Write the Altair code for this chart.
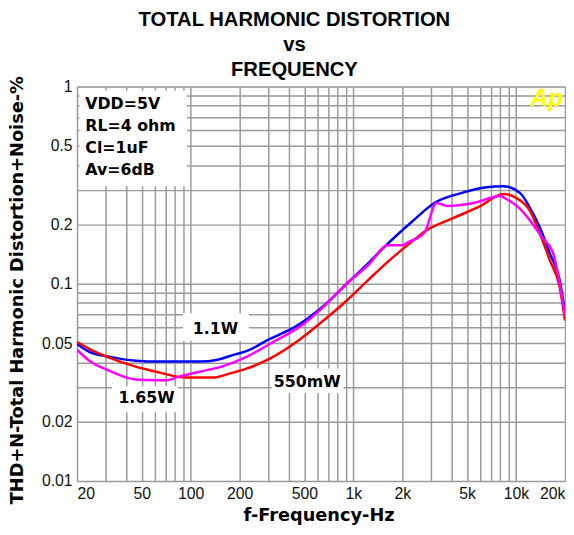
import altair as alt
import pandas as pd

# ---- data ----
f_11w = [20, 23.8, 31.5, 45.9, 63.2, 115, 146, 185, 222, 306, 446, 650, 897, 1236, 1634, 2300,
         3148, 4589, 6596, 8362, 10598, 12186, 14012, 16112, 18524, 20000]
t_11w = [0.0495, 0.0452, 0.0427, 0.0407, 0.0403, 0.0403, 0.0412, 0.0437, 0.0457, 0.0525, 0.0610,
         0.0767, 0.0989, 0.1274, 0.1603, 0.207, 0.257, 0.2884, 0.309, 0.3126, 0.2884, 0.2427,
         0.1928, 0.1429, 0.1047, 0.072]

f_550 = [20, 23.8, 31.5, 45.9, 60.6, 75.8, 92.2, 140, 175, 222, 306, 446, 615, 897, 1236, 1727,
         2382, 2738, 4162, 6066, 8362, 10020, 12186, 14012, 16112, 18524, 20000]
t_550 = [0.0507, 0.0468, 0.0422, 0.0380, 0.0359, 0.0343, 0.0335, 0.0335, 0.0351, 0.0372, 0.0417,
         0.0507, 0.0624, 0.0813, 0.1047, 0.1349, 0.168, 0.184, 0.2163, 0.2483, 0.2851, 0.2723,
         0.2344, 0.1799, 0.1318, 0.0966, 0.065]

f_165 = [20, 23.8, 31.5, 45.9, 60.6, 70, 86, 115, 155, 222, 306, 492, 650, 897, 1236, 1634, 1986,
         2160, 2738, 3238, 3774, 5500, 8018, 8720, 10598, 14608, 16800, 20000]
t_165 = [0.0463, 0.0407, 0.0363, 0.0327, 0.0324, 0.0324, 0.0339, 0.0359, 0.0380, 0.0427, 0.0495,
         0.0624, 0.0759, 0.0989, 0.1245, 0.1567, 0.1567, 0.1622, 0.1820, 0.2570, 0.2483, 0.2570,
         0.2786, 0.2692, 0.2400, 0.170, 0.145, 0.069]

series_names = ["1.1W", "550mW", "1.65W"]
series_colors = ["#0000FF", "#FF0000", "#FF00FF"]

x_grid = [20, 30, 40, 50, 60, 70, 80, 90, 100, 200, 300, 400, 500, 600, 700, 800, 900,
          1000, 2000, 3000, 4000, 5000, 6000, 7000, 8000, 9000, 10000, 20000]
x_labels = [20, 50, 100, 200, 500, 1000, 2000, 5000, 10000, 20000]
y_grid = [0.01, 0.02, 0.03, 0.04, 0.05, 0.06, 0.07, 0.08, 0.09,
          0.1, 0.2, 0.3, 0.4, 0.5, 0.6, 0.7, 0.8, 0.9, 1]
y_labels = [0.01, 0.02, 0.05, 0.1, 0.2, 0.5, 1]

cond_lines = ["VDD=5V", "RL=4 ohm", "Cl=1uF", "Av=6dB"]
cond_f = [22.5, 22.5, 22.5, 22.5]
cond_t = [0.818, 0.634, 0.487, 0.378]

# annotation boxes (data space)
box_f1 = [20.7, 89.7, 315, 32.8]
box_f2 = [94.8, 228, 871, 83.5]
box_t1 = [0.955, 0.0708, 0.0372, 0.0302]
box_t2 = [0.3126, 0.0513, 0.0279, 0.0223]

lab_text = ["1.1W", "550mW", "1.65W"]
lab_f = [142, 520, 53.5]
lab_t = [0.0589, 0.0318, 0.0263]

# ---- frames ----
rows = []
for name, fs, ts in zip(series_names, [f_11w, f_550, f_165], [t_11w, t_550, t_165]):
    for i, (f, t) in enumerate(zip(fs, ts)):
        rows.append({"s": name, "f": f, "t": t, "i": i})
lines_df = pd.DataFrame(rows)
boxes_df = pd.DataFrame({"f": box_f1, "f2": box_f2, "t": box_t1, "t2": box_t2})
cond_df = pd.DataFrame({"f": cond_f, "t": cond_t, "txt": cond_lines})
lab_df = pd.DataFrame({"f": lab_f, "t": lab_t, "txt": lab_text})
ap_df = pd.DataFrame({"f": [20000], "t": [0.794], "txt": ["Ap"]})

x_label_expr = ("indexof(%s, datum.value) >= 0 ? (datum.value >= 1000 ? (datum.value/1000) + 'k' : '' + datum.value) : ''"
                % str(x_labels))
y_label_expr = "indexof(%s, datum.value) >= 0 ? '' + datum.value : ''" % str(y_labels)

X = alt.X("f:Q",
          scale=alt.Scale(type="log", domain=[20, 20000], nice=False),
          axis=alt.Axis(values=x_grid, labelExpr=x_label_expr, title="f-Frequency-Hz",
                        grid=True, gridColor="#9a9a9a", gridWidth=1.5, gridOpacity=1,
                        ticks=False, domain=False, labelPadding=5, labelFlush=True,
                        labelFont="Liberation Sans", labelFontSize=16, labelColor="#111111",
                        labelOverlap=False,
                        titleFont="DejaVu Sans", titleFontWeight="bold", titleFontSize=18,
                        titleColor="black", titleX=245, titleY=35,
                        titleBaseline="middle", titleAlign="center"))
Y = alt.Y("t:Q",
          scale=alt.Scale(type="log", domain=[0.01, 1], nice=False),
          axis=alt.Axis(values=y_grid, labelExpr=y_label_expr,
                        title="THD+N-Total Harmonic Distortion+Noise-%",
                        grid=True, gridColor="#9a9a9a", gridWidth=1.5, gridOpacity=1,
                        ticks=False, domain=False, labelPadding=5, labelOverlap=False,
                        labelFont="Liberation Sans", labelFontSize=16, labelColor="#111111",
                        titleFont="DejaVu Sans", titleFontWeight="bold", titleFontSize=18,
                        titleColor="black", titleX=-60, titleY=206, titleAngle=-90,
                        titleBaseline="middle", titleAlign="center"))

boxes = alt.Chart(boxes_df).mark_rect(color="white", stroke=None).encode(
    x=X, x2="f2:Q", y=Y, y2="t2:Q")

lines = alt.Chart(lines_df).mark_line(strokeWidth=2.5, clip=True, interpolate="monotone").encode(
    x=X, y=Y, order="i:Q",
    color=alt.Color("s:N", scale=alt.Scale(domain=series_names, range=series_colors), legend=None))

cond = alt.Chart(cond_df).mark_text(align="left", baseline="middle", font="DejaVu Sans",
                                   fontWeight="bold", fontSize=16, color="black").encode(
    x=X, y=Y, text="txt:N")

labs = alt.Chart(lab_df).mark_text(align="center", baseline="middle", font="DejaVu Sans",
                                   fontWeight="bold", fontSize=16, color="black").encode(
    x=X, y=Y, text="txt:N")

ap = alt.Chart(ap_df).mark_text(align="right", baseline="alphabetic", font="Liberation Sans",
                                fontWeight="bold", fontStyle="italic", fontSize=25,
                                color="#FFFF00", dx=-2).encode(x=X, y=Y, text="txt:N")

chart = alt.layer(boxes, lines, cond, labs, ap).properties(
    width=495, height=400,
    autosize=alt.AutoSizeParams(type="none"),
    padding={"left": 70, "top": 76, "right": 1, "bottom": 45},
    title=alt.TitleParams(["TOTAL HARMONIC DISTORTION", "vs", "FREQUENCY"],
                          font="Liberation Sans", fontSize=20.5, fontWeight="bold",
                          lineHeight=25.5, anchor="middle", dx=-27, dy=5, offset=0, color="black"),
).configure_view(stroke="#888888", strokeWidth=1.5).configure(background="white")

chart.save("out.html", embed_options={"renderer": "svg", "actions": False})
